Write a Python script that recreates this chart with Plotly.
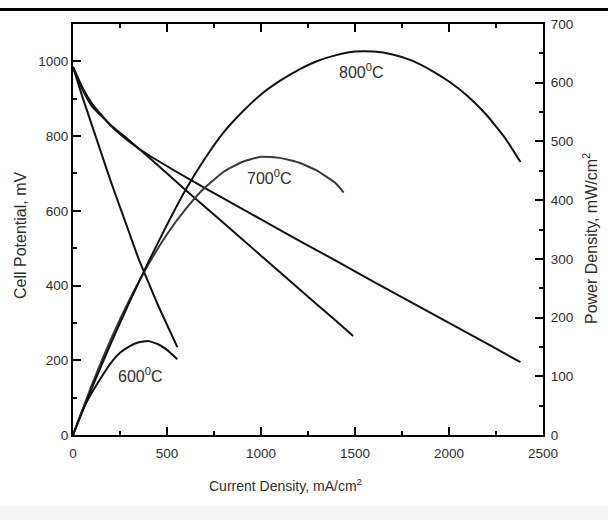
import plotly.graph_objects as go

# Cell potential (mV) vs current density (mA/cm2)
i_600_v = [0, 50, 100, 150, 200, 250, 300, 350, 400, 450, 500, 555]
v_600 = [985, 905, 830, 755, 680, 610, 540, 470, 410, 350, 295, 235]

i_700_v = [0, 50, 100, 200, 300, 400, 600, 800, 1000, 1200, 1400, 1490]
v_700 = [985, 925, 880, 830, 788, 745, 655, 568, 480, 392, 305, 265]

i_800_v = [0, 50, 100, 200, 300, 400, 600, 800, 1000, 1200, 1400, 1600, 1800, 2000, 2200, 2380]
v_800 = [985, 930, 888, 828, 785, 750, 690, 633, 577, 521, 466, 410, 355, 300, 245, 195]

# Power density (mW/cm2) vs current density (mA/cm2)
i_600_p = [0, 50, 100, 150, 200, 250, 300, 350, 400, 450, 500, 555]
p_600 = [0, 42, 72, 98, 122, 140, 151, 158, 160, 155, 145, 129]

i_700_p = [0, 100, 200, 300, 400, 500, 600, 700, 800, 900, 1000, 1100, 1200, 1300, 1400, 1440]
p_700 = [0, 85, 162, 230, 290, 342, 385, 421, 448, 465, 474, 472, 464, 450, 428, 413]

i_800_p = [0, 100, 200, 300, 400, 500, 600, 700, 800, 900, 1000, 1100, 1200, 1300,
           1400, 1500, 1600, 1700, 1800, 1900, 2000, 2100, 2200, 2300, 2380]
p_800 = [0, 80, 155, 226, 294, 358, 418, 470, 515, 550, 580, 603, 622, 637,
         647, 653, 653, 648, 638, 622, 602, 577, 545, 505, 465]

labels = ["600<sup>0</sup>C", "700<sup>0</sup>C", "800<sup>0</sup>C"]
label_pos = [(140, 375), (269, 177), (361, 71)]  # pixel centres of the temperature labels

W, H = 608, 520
L, R, T, B = 73, 65, 24, 85
PW, PH = W - L - R, H - T - B

FONT = "Liberation Sans, Arial, sans-serif"
TXT = "#2e2e2e"

fig = go.Figure()

for x, y in [(i_600_v, v_600), (i_700_v, v_700), (i_800_v, v_800)]:
    fig.add_trace(go.Scatter(x=x, y=y, mode="lines",
                             line=dict(color="#111111", width=2, shape="spline", smoothing=0.4),
                             yaxis="y", showlegend=False))
for x, y, c in [(i_600_p, p_600, "#111111"), (i_700_p, p_700, "#3a3a3a"), (i_800_p, p_800, "#111111")]:
    fig.add_trace(go.Scatter(x=x, y=y, mode="lines",
                             line=dict(color=c, width=2, shape="spline", smoothing=0.4),
                             yaxis="y2", showlegend=False))

axis_common = dict(
    showline=True, linecolor="black", linewidth=2, showgrid=False, zeroline=False,
    ticks="inside", ticklen=8, tickwidth=1.5, tickcolor="black",
    tickfont=dict(family=FONT, size=13.5, color=TXT),
)

fig.update_layout(
    width=W, height=H,
    margin=dict(l=L, r=R, t=T, b=B),
    paper_bgcolor="white", plot_bgcolor="white",
    xaxis=dict(axis_common, range=[0, 2500], dtick=500, mirror="ticks", ticklabelstandoff=5,
               minor=dict(dtick=250, ticks="inside", ticklen=4, tickcolor="black")),
    yaxis=dict(axis_common, range=[0, 1100], dtick=200,
               minor=dict(dtick=100, ticks="inside", ticklen=4, tickcolor="black")),
    yaxis2=dict(axis_common, range=[0, 700], dtick=100, overlaying="y", side="right",
                ticklabelstandoff=3,
                minor=dict(dtick=50, ticks="inside", ticklen=4, tickcolor="black")),
    font=dict(family=FONT, color=TXT),
)

def px_to_paper(px, py):
    return (px - L) / PW, (H - B - py) / PH

def label(text, px, py, size, angle=0):
    x, y = px_to_paper(px, py)
    return dict(x=x, y=y, xref="paper", yref="paper", xanchor="center", yanchor="middle",
                text=text, textangle=angle, showarrow=False,
                font=dict(family=FONT, size=size, color=TXT))

annotations = [label(t, px, py, 16) for t, (px, py) in zip(labels, label_pos)]
annotations.append(label("Current Density, mA/cm<sup>2</sup>", 285, 485, 14))
annotations.append(label("Cell Potential, mV", 20, 236, 16, -90))
annotations.append(label("Power Density, mW/cm<sup>2</sup>", 590, 239, 16, -90))
fig.update_layout(annotations=annotations)

# heavy rule across the top of the page and a light band at the bottom
x0, _ = px_to_paper(0, 0)
x1, _ = px_to_paper(W, 0)
_, yr = px_to_paper(0, 9.5)
_, yb0 = px_to_paper(0, 506)
_, yb1 = px_to_paper(0, H)
fig.add_shape(type="line", xref="paper", yref="paper", x0=x0, x1=x1, y0=yr, y1=yr,
              line=dict(color="black", width=3))
fig.add_shape(type="rect", xref="paper", yref="paper", x0=x0, x1=x1, y0=yb1, y1=yb0,
              fillcolor="#f5f5f5", line=dict(width=0), layer="below")

fig.write_html("out.html")
